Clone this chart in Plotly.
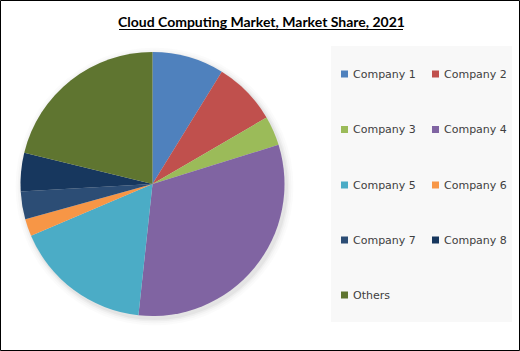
import plotly.graph_objects as go

labels = ["Company 1", "Company 2", "Company 3", "Company 4", "Company 5",
          "Company 6", "Company 7", "Company 8", "Others"]
shares = [8.8, 7.8, 3.6, 31.5, 16.9, 2.1, 3.4, 4.7, 21.2]
colors = ["#4F81BD", "#C0504D", "#9BBB59", "#8064A2", "#4BACC6",
          "#F79646", "#2C4D75", "#17375E", "#5F7530"]
title = "Cloud Computing Market, Market Share, 2021"

W, H = 520, 351

def px(x):
    return x / W

def py(y):
    return 1 - y / H

fig = go.Figure()
fig.add_trace(go.Pie(
    labels=labels, values=shares, sort=False, direction="clockwise", rotation=0,
    marker=dict(colors=colors, line=dict(width=0)),
    textinfo="none", hoverinfo="label+percent", showlegend=False,
    domain=dict(x=[px(20.5), px(284.5)], y=[py(316), py(52)]),
))

shapes = []
annotations = []
# soft shadow behind pie
cx0, cy0, r0 = 154.5, 186.5, 132
for k, a in [(7, 0.015), (5, 0.02), (3, 0.03), (1.5, 0.04)]:
    shapes.append(dict(type="circle", xref="paper", yref="paper", layer="below",
                       x0=px(cx0 - r0 - k), x1=px(cx0 + r0 + k),
                       y0=py(cy0 + r0 + k), y1=py(cy0 - r0 - k),
                       fillcolor="rgba(0,0,0,%g)" % a, line=dict(width=0)))
# outer frame
shapes.append(dict(type="rect", xref="paper", yref="paper", x0=px(0.5), x1=px(W - 0.5),
                   y0=py(H - 0.5), y1=py(0.5), line=dict(color="#000000", width=1)))
# legend panel
shapes.append(dict(type="rect", xref="paper", yref="paper", x0=px(331), x1=px(512),
                   y0=py(322), y1=py(46), fillcolor="#F8F8F8", line=dict(width=0), layer="below"))
# title underline
shapes.append(dict(type="line", xref="paper", yref="paper", x0=px(119), x1=px(403),
                   y0=py(29.5), y1=py(29.5), line=dict(color="#000000", width=1)))

annotations.append(dict(text="<b>" + title + "</b>", xref="paper", yref="paper",
                        x=px(261), y=py(22), xanchor="center", yanchor="middle",
                        showarrow=False, font=dict(family="Lato", size=14, color="#000000")))

col_x = [341, 432]
row_y = [74, 129.5, 185, 240, 295]
for i, (lab, col) in enumerate(zip(labels, colors)):
    cx = col_x[i % 2]
    cy = row_y[i // 2]
    shapes.append(dict(type="rect", xref="paper", yref="paper", x0=px(cx), x1=px(cx + 7),
                       y0=py(cy + 3.5), y1=py(cy - 3.5), fillcolor=col, line=dict(width=0)))
    annotations.append(dict(text=lab, xref="paper", yref="paper", x=px(cx + 10), y=py(cy),
                            xanchor="left", yanchor="middle", showarrow=False,
                            font=dict(family="DejaVu Sans", size=11, color="#404040")))

fig.update_layout(width=W, height=H, margin=dict(l=0, r=0, t=0, b=0),
                  paper_bgcolor="#FFFFFF", plot_bgcolor="#FFFFFF",
                  shapes=shapes, annotations=annotations)
fig.write_html("out.html")
